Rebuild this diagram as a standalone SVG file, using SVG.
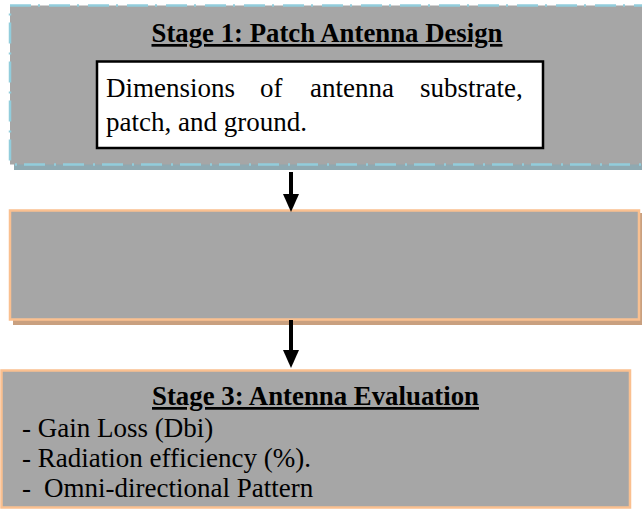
<svg xmlns="http://www.w3.org/2000/svg" width="642" height="510" viewBox="0 0 642 510">
<style>
.fill{fill:#A6A6A6}
.orange{stroke:#FAC090;stroke-width:2.5}
.t{font-family:"Liberation Serif","Times New Roman",Times,serif;font-size:27px;fill:#000}
.b{font-weight:bold;text-decoration:underline}
</style>
<defs>
<marker id="ah" viewBox="0 0 18 16" refX="2" refY="8" markerWidth="18" markerHeight="16" markerUnits="userSpaceOnUse" orient="auto">
<path d="M0,0 L18,8 L0,16 Z" fill="#000"/>
</marker>
</defs>
<rect width="642" height="510" fill="#fff"/>
<g id="stage1">
<rect x="14" y="10" width="640" height="160" fill="#8FA9B1"/>
<rect x="10" y="5.5" width="640" height="159" class="fill" stroke="#92CDDC" stroke-width="2.5" stroke-dasharray="21 7 2 9"/>
<text class="t b" x="327" y="42" text-anchor="middle" textLength="351" lengthAdjust="spacingAndGlyphs">Stage 1: Patch Antenna Design</text>
<rect x="97" y="61.5" width="446" height="86.5" fill="#fff" stroke="#000" stroke-width="2.5"/>
<text class="t" y="97"><tspan x="106">Dimensions</tspan><tspan x="260">of</tspan><tspan x="310">antenna</tspan><tspan x="420">substrate,</tspan></text>
<text class="t" x="106" y="131">patch, and ground.</text>
</g>
<g id="stage2">
<rect x="13" y="213" width="629" height="112" fill="#C9A07F"/>
<rect x="10" y="210.5" width="629" height="109" class="fill orange"/>
</g>
<g id="stage3">
<rect x="1.5" y="370.5" width="628.5" height="137" class="fill orange"/>
<text class="t b" x="315.5" y="405" text-anchor="middle" textLength="327" lengthAdjust="spacingAndGlyphs">Stage 3: Antenna Evaluation</text>
<text class="t" x="22" y="437">- Gain Loss (Dbi)</text>
<text class="t" x="22" y="467">- Radiation efficiency (%).</text>
<text class="t" y="497"><tspan x="22">-</tspan><tspan x="44">Omni-directional Pattern</tspan></text>
</g>
<g id="connectors" stroke="#000" stroke-width="4" fill="none">
<line x1="291" y1="172" x2="291" y2="196" marker-end="url(#ah)"/>
<line x1="291" y1="320" x2="291" y2="352" marker-end="url(#ah)"/>
</g>
</svg>
